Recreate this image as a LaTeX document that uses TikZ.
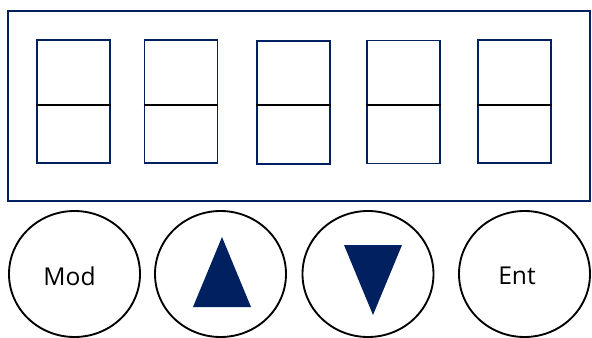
\documentclass[tikz,border=0pt]{standalone}
\usepackage{fontspec}
\setmainfont{Open Sans}
\usetikzlibrary{shapes.geometric, positioning}
\definecolor{panelblue}{HTML}{002060}

\begin{document}
\begin{tikzpicture}[
    x=0.03cm, y=-0.03cm,
    frame/.style={
        rectangle, draw=panelblue, line width=1.6pt,
        minimum width=17.46cm, minimum height=5.7cm
    },
    digit/.style={
        rectangle, draw=panelblue, line width=1.6pt,
        minimum width=2.19cm, minimum height=3.69cm
    },
    key/.style={
        ellipse, draw, line width=1.6pt,
        minimum width=3.93cm, minimum height=3.78cm, inner sep=0pt
    },
    keytext/.style={font=\fontsize{21}{24}\selectfont},
    midline/.style={line width=1.6pt, black}
]
\useasboundingbox (0,0) rectangle (592,337);

\node[frame] (panel) at (299, 106) {};

\node[digit] (dig1) at (73.5, 101.5) {};
\node[digit] (dig2) at (181, 101.5) {};
\node[digit] (dig3) at (293.5, 102.5) {};
\node[digit] (dig4) at (403.5, 102) {};
\node[digit] (dig5) at (514.5, 101.5) {};

\draw[midline] ([yshift=-0.1cm]dig1.west) -- ([yshift=-0.1cm]dig1.east);
\draw[midline] ([yshift=-0.1cm]dig2.west) -- ([yshift=-0.1cm]dig2.east);
\draw[midline] ([yshift=-0.07cm]dig3.west) -- ([yshift=-0.07cm]dig3.east);
\draw[midline] ([yshift=-0.09cm]dig4.west) -- ([yshift=-0.09cm]dig4.east);
\draw[midline] ([yshift=-0.1cm]dig5.west) -- ([yshift=-0.1cm]dig5.east);

\node[key] (keymod) at (74.5, 274) {};
\node[key] (keyup) at (220.5, 274) {};
\node[key] (keydown) at (368, 274) {};
\node[key] (keyent) at (524.5, 274) {};

\node[keytext] (txtmod) at (69.5, 276) {Mod};
\node[keytext] (txtent) at (517, 276) {Ent};

\fill[panelblue] (222, 237) -- (251, 307) -- (193, 307) -- cycle;
\fill[panelblue] (344, 245) -- (402, 245) -- (373, 315) -- cycle;

\end{tikzpicture}
\end{document}
